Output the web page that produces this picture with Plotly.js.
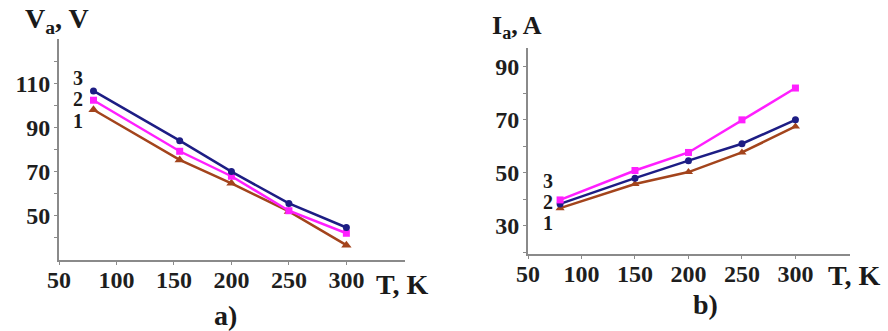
<!DOCTYPE html>
<html><head><meta charset="utf-8">
<script src="https://cdn.plot.ly/plotly-3.0.1.min.js"></script>
<style>html,body{margin:0;padding:0;background:#fff}#plot{width:888px;height:331px}</style>
</head><body><div id="plot"></div>
<script>
// Chart a) anode voltage vs temperature
const tempA = [80, 155, 200, 250, 300];
const va1 = [98, 75.3, 64.7, 52, 36.7];
const va2 = [102.3, 79.2, 67.9, 52.3, 42.1];
const va3 = [106.5, 84, 70, 55.6, 44.7];
// Chart b) anode current vs temperature
const tempB = [80, 150, 200, 250, 300];
const ia1 = [36.7, 45.8, 50.3, 57.7, 67.5];
const ia2 = [38.3, 48, 54.6, 61, 70];
const ia3 = [39.8, 50.9, 57.7, 70, 82];
const xTicks = [50, 100, 150, 200, 250, 300];
const yTicksA = [50, 70, 90, 110];
const yTicksB = [30, 50, 70, 90];

const NAVY = '#1d1d84', MAG = '#ff1fff', BROWN = '#a3441c';
const FONT = 'Liberation Serif';

function tr(x, y, color, sym, size, xa, ya) {
  return {x: x, y: y, type: 'scatter', mode: 'lines+markers', xaxis: xa, yaxis: ya,
    line: {color: color, width: 2.5}, marker: {color: color, symbol: sym, size: size},
    showlegend: false, hoverinfo: 'skip'};
}
const data = [
  tr(tempA, va1, BROWN, 'triangle-up', 9, 'x', 'y'),
  tr(tempA, va2, MAG, 'square', 7, 'x', 'y'),
  tr(tempA, va3, NAVY, 'circle', 7, 'x', 'y'),
  tr(tempB, ia1, BROWN, 'triangle-up', 8, 'x2', 'y2'),
  tr(tempB, ia2, NAVY, 'circle', 7, 'x2', 'y2'),
  tr(tempB, ia3, MAG, 'square', 7, 'x2', 'y2')
];

const tickFont = {family: FONT, size: 24, color: '#1e1e1e', weight: 'bold'};
function xax(domain, anchor) {
  return {domain: domain, anchor: anchor, range: [50, 351], tickvals: xTicks,
    showgrid: false, zeroline: false, showline: true, linecolor: '#8a8a8a', linewidth: 2,
    ticks: 'outside', ticklen: 3, tickcolor: '#8a8a8a', tickfont: tickFont,
    ticklabelstandoff: -6, fixedrange: true};
}
function yax(domain, anchor, range, tv, minorVals) {
  return {domain: domain, anchor: anchor, range: range, tickvals: tv,
    showgrid: false, zeroline: false, showline: true, linecolor: '#8a8a8a', linewidth: 2,
    ticks: 'outside', ticklen: 3, tickcolor: '#8a8a8a', tickfont: tickFont, ticklabelstandoff: -1,
    minor: {tickvals: minorVals, ticks: 'outside', ticklen: 3, tickcolor: '#8a8a8a'},
    fixedrange: true};
}
const W = 888, H = 331;
function px(v) { return v / W; }
function py(v) { return 1 - v / H; }

function ann(text, x, y, size, xref, yref, xanchor, h) {
  const a = {text: text, x: x, y: y, xref: xref || 'paper', yref: yref || 'paper', showarrow: false,
    xanchor: xanchor || 'center', yanchor: 'middle',
    font: {family: FONT, size: size, color: '#1a1a1a', weight: 'bold'}};
  if (h) { a.height = h; a.borderpad = 0; }
  return a;
}

const layout = {
  width: W, height: H, margin: {l: 0, r: 0, t: 0, b: 0},
  paper_bgcolor: '#fff', plot_bgcolor: '#fff',
  xaxis: xax([px(59), px(405)], 'y'),
  yaxis: yax([py(260), py(39)], 'x', [30, 130], yTicksA, [40, 60, 80, 100, 120]),
  xaxis2: xax([px(528), px(850)], 'y2'),
  yaxis2: yax([py(254), py(48)], 'x2', [19.4, 97.1], yTicksB, [20, 40, 60, 80]),
  annotations: [
    ann('V<sub>a</sub>, V', px(23), py(20), 28, 'paper', 'paper', 'left'),
    ann('T, K', px(374), py(284), 28, 'paper', 'paper', 'left'),
    ann('a)', px(225), py(315), 28),
    ann('I<sub>a</sub>, A', px(490), py(27), 26, 'paper', 'paper', 'left'),
    ann('T, K', px(826), py(275), 28, 'paper', 'paper', 'left'),
    ann('b)', px(705), py(304), 28),
    ann('3', 66.5, 112.2, 20, 'x', 'y', 'center', 16),
    ann('2', 66.5, 102.8, 20, 'x', 'y', 'center', 16),
    ann('1', 66.5, 93.0, 20, 'x', 'y', 'center', 16),
    ann('3', 68.7, 47, 20, 'x2', 'y2', 'center', 16),
    ann('2', 68.7, 39.2, 20, 'x2', 'y2', 'center', 16),
    ann('1', 68.7, 31, 20, 'x2', 'y2', 'center', 16)
  ]
};
Plotly.newPlot('plot', data, layout, {displayModeBar: false, staticPlot: true});
</script></body></html>
